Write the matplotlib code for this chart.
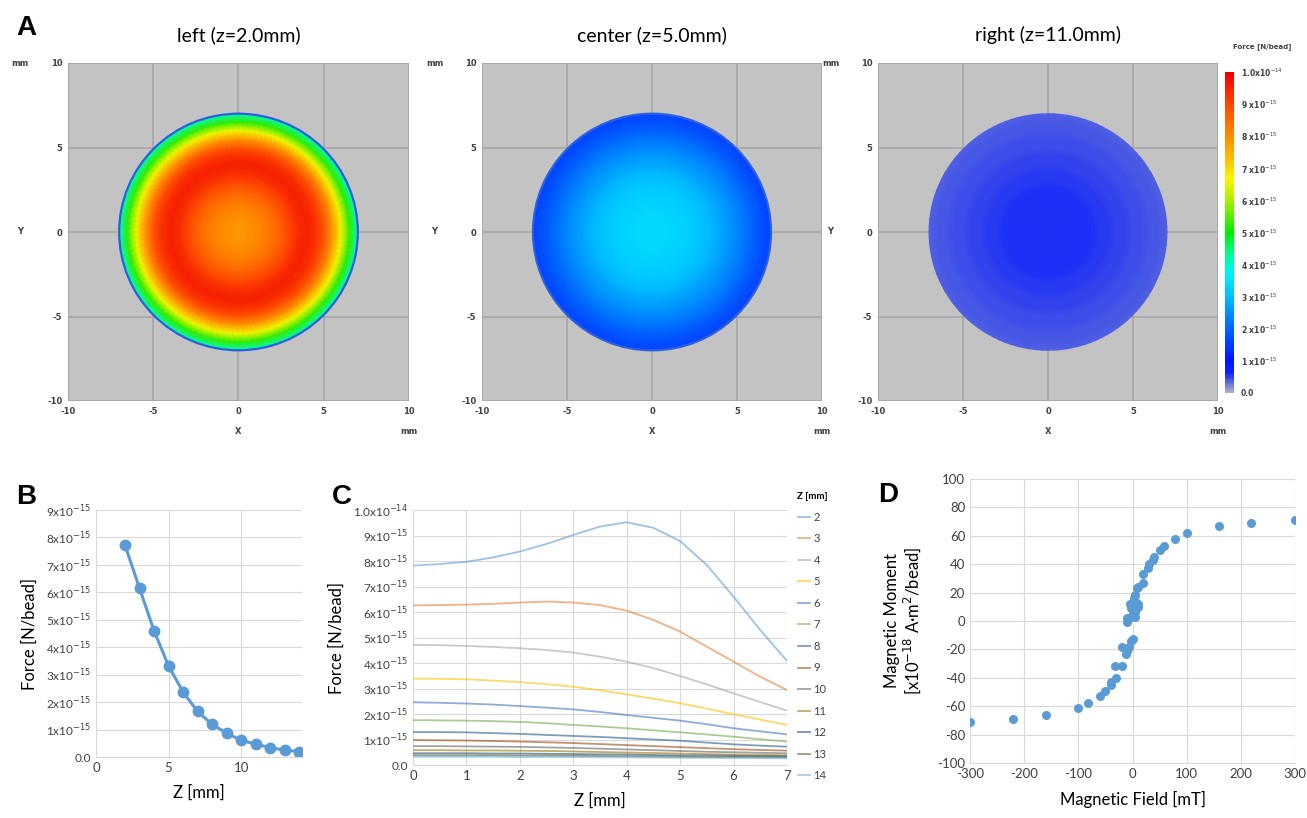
import numpy as np
import matplotlib
matplotlib.use("Agg")
import matplotlib.pyplot as plt
from matplotlib.colors import LinearSegmentedColormap, Normalize
from matplotlib.patches import Circle

plt.rcParams['font.family'] = ['Lato', 'DejaVu Sans']
plt.rcParams['axes.unicode_minus'] = False

# ---- data (force values in units of 1e-15 N/bead) ----
r_pos = [0, 0.5, 1, 1.5, 2, 2.5, 3, 3.5, 4, 4.5, 5, 5.5, 6, 6.5, 7]
z_levels = [2, 3, 4, 5, 6, 7, 8, 9, 10, 11, 12, 13, 14]
force_z2 = [7.82, 7.88, 7.97, 8.14, 8.37, 8.67, 9.02, 9.35, 9.52, 9.30, 8.78, 7.84, 6.60, 5.29, 4.08]
force_z3 = [6.26, 6.27, 6.29, 6.32, 6.37, 6.41, 6.37, 6.27, 6.05, 5.69, 5.23, 4.64, 4.05, 3.46, 2.94]
force_z4 = [4.71, 4.70, 4.67, 4.63, 4.58, 4.51, 4.41, 4.25, 4.05, 3.80, 3.49, 3.16, 2.81, 2.47, 2.13]
force_z5 = [3.39, 3.38, 3.36, 3.31, 3.25, 3.17, 3.07, 2.93, 2.77, 2.60, 2.42, 2.21, 1.99, 1.78, 1.57]
force_z6 = [2.46, 2.44, 2.41, 2.37, 2.31, 2.25, 2.18, 2.08, 1.96, 1.85, 1.74, 1.60, 1.44, 1.32, 1.20]
force_z7 = [1.76, 1.75, 1.74, 1.72, 1.69, 1.64, 1.57, 1.51, 1.44, 1.36, 1.28, 1.20, 1.11, 1.01, 0.92]
force_z8 = [1.29, 1.29, 1.28, 1.25, 1.22, 1.18, 1.14, 1.10, 1.05, 1.00, 0.95, 0.88, 0.81, 0.76, 0.72]
force_z9 = [0.98, 0.97, 0.96, 0.94, 0.92, 0.89, 0.86, 0.82, 0.78, 0.74, 0.70, 0.66, 0.62, 0.59, 0.56]
force_z10 = [0.74, 0.74, 0.73, 0.72, 0.71, 0.69, 0.67, 0.64, 0.61, 0.58, 0.55, 0.52, 0.50, 0.48, 0.46]
force_z11 = [0.58, 0.58, 0.57, 0.57, 0.56, 0.55, 0.53, 0.51, 0.49, 0.47, 0.45, 0.43, 0.41, 0.40, 0.38]
force_z12 = [0.46, 0.46, 0.46, 0.45, 0.45, 0.44, 0.43, 0.42, 0.41, 0.39, 0.38, 0.37, 0.36, 0.35, 0.34]
force_z13 = [0.38, 0.38, 0.38, 0.38, 0.37, 0.37, 0.36, 0.35, 0.34, 0.33, 0.32, 0.31, 0.31, 0.30, 0.30]
force_z14 = [0.32, 0.32, 0.32, 0.32, 0.31, 0.31, 0.31, 0.30, 0.30, 0.29, 0.28, 0.28, 0.27, 0.27, 0.26]
force_curves = [force_z2, force_z3, force_z4, force_z5, force_z6, force_z7, force_z8,
                force_z9, force_z10, force_z11, force_z12, force_z13, force_z14]

# panel B: force at centre vs distance
z_b = [2, 3, 4, 5, 6, 7, 8, 9, 10, 11, 12, 13, 14]
force_b = [7.72, 6.15, 4.60, 3.32, 2.37, 1.66, 1.19, 0.87, 0.61, 0.47, 0.34, 0.25, 0.20]

# panel D: magnetisation curve
field_mt = [-300, -221, -160, -101, -82, -60, -51, -40, -40, -30, -32, -20, -20, -12, -10, -6,
            -3.5, 0, -11, -10, -3, 1.5, 5, 5, -3, -1, -5, 2, 5, 10, 10, 2, 5, 8, 10, 19, 19,
            29, 30, 38, 40, 50, 59, 79, 100, 160, 219, 300]
moment = [-71, -69, -66, -61, -58, -53, -49, -45, -43, -40, -32, -32, -18, -23, -21, -18,
          -14, -13, -1, 2, 3, 5, 3, 6, 9, 10, 12, 13, 14, 12, 10, 16, 18, 23, 24, 27, 33,
          37, 40, 43, 45, 50, 53, 58, 62, 67, 69, 71]

map_titles = ["left (z=2.0mm)", "center (z=5.0mm)", "right (z=11.0mm)"]
map_profiles = [force_z2, force_z5, force_z11]
cbar_labels = ["0.0"] + [f"{i} x10$^{{-15}}$" for i in range(1, 10)] + ["1.0x10$^{-14}$"]

excel_colors = ["#5B9BD5", "#ED7D31", "#A5A5A5", "#FFC000", "#4472C4", "#70AD47", "#255E91",
                "#9E480E", "#636363", "#997300", "#264478", "#43682B", "#7CAFDD"]

# ---- colormap of the simulation software ----
nodes = [(0.00, (175, 175, 205)), (0.03, (95, 110, 220)), (0.06, (15, 35, 252)),
         (0.10, (0, 20, 255)), (0.20, (0, 100, 255)), (0.30, (0, 190, 255)),
         (0.37, (0, 240, 255)), (0.43, (0, 255, 150)), (0.50, (0, 235, 0)),
         (0.60, (170, 240, 0)), (0.67, (255, 245, 0)), (0.73, (255, 190, 0)),
         (0.80, (255, 140, 0)), (0.90, (255, 70, 0)), (1.00, (240, 0, 0))]
cmap = LinearSegmentedColormap.from_list("force", [(p, tuple(c / 255 for c in rgb)) for p, rgb in nodes])
norm = Normalize(0, 10)

W, H = 1307, 818
fig = plt.figure(figsize=(W / 100, H / 100), dpi=100)


def px(x0, y0, x1, y1):
    return [x0 / W, 1 - y1 / H, (x1 - x0) / W, (y1 - y0) / H]


# ---- panel A: force maps ----
map_boxes = [(68, 63, 409, 401), (482, 63, 822, 401), (878, 63, 1218, 401)]
theta = np.linspace(0, 2 * np.pi, 121)
small = dict(fontsize=6, fontweight="bold", color="#404040", family="DejaVu Sans")
mesh = None
for box, title, prof in zip(map_boxes, map_titles, map_profiles):
    ax = fig.add_axes(px(*box))
    ax.set_facecolor("#c3c3c3")
    R, T = np.meshgrid(r_pos, theta)
    C = np.tile(prof, (len(theta), 1))
    mesh = ax.pcolormesh(R * np.cos(T), R * np.sin(T), C, shading="gouraud",
                         cmap=cmap, norm=norm, zorder=2)
    if prof is not force_z11:
        ax.add_patch(Circle((0, 0), 7.0, fill=False, ec="#2a60e0", lw=1.6, zorder=3))
    ax.set_xlim(-10, 10)
    ax.set_ylim(-10, 10)
    ticks = [-10, -5, 0, 5, 10]
    ax.set_xticks(ticks)
    ax.set_yticks(ticks)
    ax.set_xticklabels([str(t) for t in ticks], **small)
    ax.set_yticklabels([str(t) for t in ticks], **small)
    ax.tick_params(length=0, pad=4)
    ax.grid(True, color="#a6a6a6", lw=1.2, zorder=1)
    ax.set_axisbelow(True)
    for s in ax.spines.values():
        s.set_visible(False)
    ax.set_title(title, fontsize=14, pad=16)
    ax.text(-0.14, 1.0, "mm", transform=ax.transAxes, ha="center", va="center", **small)
    ax.text(-0.14, 0.5, "Y", transform=ax.transAxes, ha="center", va="center", **small)
    ax.text(0.5, -0.09, "X", transform=ax.transAxes, ha="center", va="center", **small)
    ax.text(1.0, -0.09, "mm", transform=ax.transAxes, ha="center", va="center", **small)

cax = fig.add_axes(px(1225, 72, 1234, 393))
cb = fig.colorbar(mesh, cax=cax, ticks=range(0, 11))
cb.outline.set_visible(False)
cb.ax.set_yticklabels(cbar_labels, fontsize=5.5, fontweight="bold", color="#404040",
                      family="DejaVu Sans")
cb.ax.tick_params(length=0, pad=5)
fig.text(1262 / W, 1 - 47 / H, "Force [N/bead]", fontsize=5, fontweight="bold",
         color="#404040", ha="center", va="center", family="DejaVu Sans")

# ---- shared Excel look ----
def excel_axes(ax):
    ax.grid(True, color="#d9d9d9", lw=0.8)
    ax.set_axisbelow(True)
    for s in ["top", "right", "left"]:
        ax.spines[s].set_visible(False)
    ax.spines["bottom"].set_color("#d9d9d9")
    ax.tick_params(length=0, colors="#404040", labelsize=9.5)


ylab_1e15 = ["0.0"] + [f"{i}x10$^{{-15}}$" for i in range(1, 10)]

# ---- panel B ----
axb = fig.add_axes(px(96, 510, 302, 757))
axb.plot(z_b, force_b, color="#5B9BD5", lw=2.2, marker="o", ms=7.5)
axb.set_xlim(0, 14.2)
axb.set_ylim(0, 9)
axb.set_xticks([0, 5, 10])
axb.set_yticks(range(0, 10))
axb.set_yticklabels(ylab_1e15)
excel_axes(axb)
axb.tick_params(axis="y", labelsize=8.5)
axb.set_xlabel("Z [mm]", fontsize=12, labelpad=8)
axb.set_ylabel("Force [N/bead]", fontsize=12, labelpad=6)

# ---- panel C ----
axc = fig.add_axes(px(413, 510, 787, 765))
for z, vals, col in zip(z_levels, force_curves, excel_colors):
    axc.plot(r_pos, vals, color=col, lw=1.3, alpha=0.6, label=str(z))
axc.set_xlim(0, 7)
axc.set_ylim(0, 10)
axc.set_xticks(range(0, 8))
axc.set_yticks(range(0, 11))
axc.set_yticklabels(ylab_1e15 + ["1.0x10$^{-14}$"])
excel_axes(axc)
axc.tick_params(axis="y", labelsize=8.5)
axc.set_xlabel("Z [mm]", fontsize=12, labelpad=8)
axc.set_ylabel("Force [N/bead]", fontsize=12, labelpad=6)
leg = axc.legend(loc="upper left", bbox_to_anchor=(1.0, 1.11), frameon=False,
                 title="Z [mm]", fontsize=8, handlelength=1.1, handletextpad=0.3,
                 labelspacing=0.95, title_fontproperties={"size": 7, "weight": "bold"})
for t in leg.get_texts():
    t.set_color("#404040")

# ---- panel D ----
axd = fig.add_axes(px(970, 479, 1295, 763))
axd.scatter(field_mt, moment, s=30, color="#5B9BD5", zorder=3)
axd.set_xlim(-300, 300)
axd.set_ylim(-100, 100)
axd.set_xticks(range(-300, 301, 100))
axd.set_yticks(range(-100, 101, 20))
excel_axes(axd)
axd.set_xlabel("Magnetic Field [mT]", fontsize=12, labelpad=8)
axd.set_ylabel("Magnetic Moment\n[x10$^{-18}$ A·m$^{2}$/bead]", fontsize=12, labelpad=10,
               linespacing=1.1)

# ---- panel letters ----
for letter, x, y in [("A", 26, 28), ("B", 26, 497), ("C", 342, 497), ("D", 888, 495)]:
    fig.text(x / W, 1 - y / H, letter, fontsize=20, fontweight="bold",
             family="Liberation Sans", ha="center", va="center")

fig.savefig("out.png", dpi=100)
